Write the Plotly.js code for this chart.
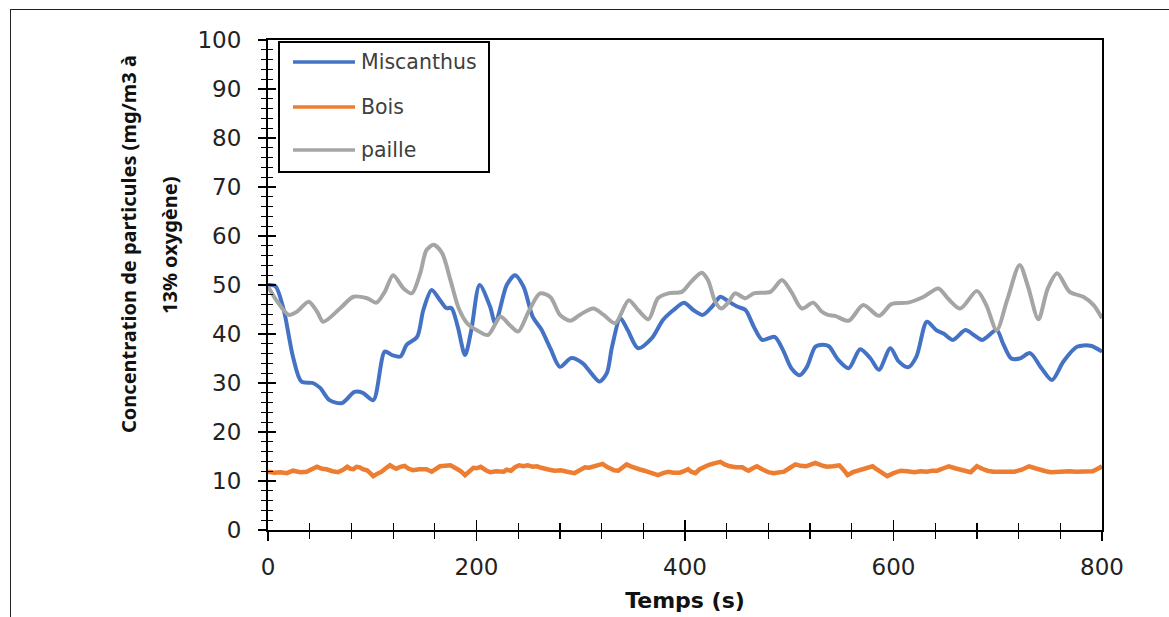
<!DOCTYPE html>
<html>
<head>
<meta charset="utf-8">
<script src="https://cdn.plot.ly/plotly-3.0.1.min.js"></script>
<style>
html,body{margin:0;padding:0;background:#fff;}
#frame{position:absolute;left:10px;top:9px;width:1200px;height:700px;border:1.5px solid #222;box-sizing:border-box;}
#chart{position:absolute;left:0;top:0;width:1169px;height:617px;}
</style>
</head>
<body>
<div id="frame"></div>
<div id="chart"></div>
<script>
// ---- Data ----
const miscanthusX = [0, 7, 15, 24, 32, 43, 50, 59, 71, 83, 91, 101, 112, 119, 127, 133, 143, 149, 157, 165, 171, 176, 182, 189, 195, 203, 213, 218, 229, 237, 245, 254, 262, 271, 280, 291, 302, 310, 318, 325, 330, 338, 345, 355, 368, 379, 389, 399, 408, 417, 426, 434, 440, 450, 458, 466, 474, 486, 494, 502, 510, 517, 525, 532, 538, 547, 557, 568, 578, 586, 597, 605, 614, 622, 632, 641, 648, 657, 669, 677, 685, 699, 705, 713, 721, 731, 742, 752, 763, 776, 789, 800];
const miscanthusY = [50, 49.8, 45, 35.3, 30.3, 30, 29, 26.5, 25.9, 28.2, 28, 26.5, 36.4, 35.7, 35.4, 37.8, 39.4, 44.9, 49, 46.9, 45.3, 45.3, 41.5, 35.7, 40.8, 50, 45.6, 42.2, 50, 52, 49.7, 43.5, 41, 37, 33.3, 35.1, 34, 32, 30.3, 32, 37.4, 43.2, 40.8, 37.1, 39.1, 42.9, 44.9, 46.4, 44.9, 43.9, 45.6, 47.6, 46.9, 45.6, 44.9, 41.5, 38.8, 39.4, 36.7, 33, 31.6, 33.3, 37.4, 37.8, 37.5, 34.7, 33, 36.9, 35, 32.7, 37.1, 34.4, 33.2, 35.4, 42.5, 40.8, 40.1, 38.8, 40.8, 39.8, 38.8, 40.8, 38.1, 35, 35, 36.1, 33, 30.6, 34.4, 37.4, 37.6, 36.4];

const paille_X = [0, 8, 20, 28, 39, 47, 53, 69, 82, 95, 104, 112, 120, 130, 138, 146, 152, 159, 167, 175, 183, 191, 200, 211, 223, 232, 240, 250, 261, 271, 280, 290, 299, 312, 322, 333, 346, 355, 365, 374, 384, 397, 406, 416, 422, 429, 435, 442, 448, 458, 466, 482, 493, 502, 512, 523, 531, 537, 544, 557, 571, 586, 598, 614, 629, 643, 652, 664, 680, 689, 699, 709, 721, 729, 739, 748, 757, 769, 782, 792, 800];
const paille_Y = [49.7, 46.9, 43.9, 44.6, 46.6, 44.6, 42.5, 45.2, 47.6, 47.3, 46.4, 48.6, 52, 49.3, 48.3, 52.4, 57.1, 58.2, 56.5, 51, 45.2, 42.2, 40.8, 39.8, 43.5, 41.8, 40.5, 44.6, 48.3, 47.5, 43.9, 42.7, 43.9, 45.2, 43.9, 42.2, 46.9, 44.9, 43, 47.3, 48.3, 48.6, 50.7, 52.5, 51, 46.6, 45.2, 46.6, 48.3, 47.3, 48.3, 48.6, 51, 48.6, 45.2, 46.4, 44.6, 43.9, 43.7, 42.7, 45.9, 43.7, 46.1, 46.4, 47.6, 49.3, 47.3, 45.2, 48.8, 45.9, 40.8, 46.9, 54.1, 49.7, 43, 49.3, 52.4, 48.6, 47.6, 45.9, 43.2];

const boisX = [0, 6, 12, 18, 24, 31, 37, 42, 47, 52, 56, 62, 67, 72, 76, 79, 82, 85, 88, 91, 95, 98, 101, 105, 109, 113, 117, 120, 123, 127, 131, 135, 139, 145, 152, 157, 161, 165, 170, 175, 181, 185, 189, 193, 197, 200, 204, 209, 213, 219, 226, 229, 233, 237, 241, 245, 249, 254, 258, 262, 265, 270, 275, 281, 287, 291, 294, 299, 304, 308, 313, 317, 321, 325, 329, 332, 336, 340, 344, 348, 352, 356, 361, 367, 374, 379, 384, 389, 395, 399, 403, 406, 410, 414, 418, 423, 428, 434, 438, 443, 449, 455, 458, 461, 465, 469, 474, 480, 485, 490, 495, 500, 506, 511, 516, 520, 525, 531, 536, 542, 548, 552, 556, 561, 565, 572, 580, 583, 586, 590, 594, 600, 607, 613, 620, 626, 632, 637, 642, 648, 653, 659, 664, 669, 674, 677, 680, 685, 690, 696, 703, 709, 716, 723, 730, 736, 741, 746, 751, 757, 764, 769, 775, 780, 786, 791, 796, 800];
const boisY = [11.9, 11.7, 11.8, 11.6, 12.1, 11.8, 11.9, 12.3, 12.9, 12.5, 12.4, 12.0, 11.8, 12.3, 12.9, 12.5, 12.4, 12.9, 12.8, 12.4, 12.2, 11.6, 11.0, 11.5, 11.9, 12.6, 13.2, 12.8, 12.5, 12.9, 13.1, 12.5, 12.2, 12.4, 12.4, 11.9, 12.5, 13.0, 13.1, 13.2, 12.5, 12.0, 11.2, 12.0, 12.7, 12.6, 12.9, 12.2, 11.8, 12.0, 11.9, 12.3, 12.1, 12.8, 13.2, 13.0, 13.2, 12.9, 13.0, 12.7, 12.5, 12.3, 12.1, 12.2, 11.9, 11.8, 11.6, 12.2, 12.8, 12.7, 13.0, 13.2, 13.5, 12.9, 12.4, 12.2, 12.1, 12.7, 13.4, 13.0, 12.8, 12.4, 12.1, 11.7, 11.2, 11.6, 11.9, 11.7, 11.7, 12.0, 12.4, 11.9, 11.6, 12.4, 12.9, 13.3, 13.6, 13.9, 13.4, 13.0, 12.8, 12.8, 12.4, 12.1, 12.6, 13.0, 12.4, 11.8, 11.6, 11.7, 11.9, 12.6, 13.4, 13.1, 13.0, 13.3, 13.7, 13.2, 12.9, 13.0, 13.2, 12.3, 11.2, 11.8, 12.1, 12.6, 13.0, 12.5, 12.1, 11.4, 11.0, 11.6, 12.1, 12.0, 11.8, 12.0, 11.9, 12.1, 12.1, 12.6, 13.0, 12.6, 12.4, 12.1, 11.8, 12.4, 13.0, 12.5, 12.1, 11.9, 11.9, 12.1, 11.9, 12.3, 13.0, 12.6, 12.2, 12.0, 11.8, 11.9, 11.9, 12.0, 11.9, 12.0, 11.9, 12.0, 12.5, 13.0];

const seriesNames = ['Miscanthus', 'Bois', 'paille'];
const seriesColors = ['#4472C4', '#ED7D31', '#A5A5A5'];
const xTickVals = [0, 200, 400, 600, 800];
const yTickVals = [0, 10, 20, 30, 40, 50, 60, 70, 80, 90, 100];
const xTitle = 'Temps (s)';
const yTitleLines = ['Concentration de particules (mg/m3 à', '13% oxygène)'];

// ---- Layout geometry ----
const W = 1169, H = 617;
const L = 268, R = 67, T = 40, B = 87;
const PW = W - L - R, PH = H - T - B;
const px = v => (v - L) / PW;        // pixel x -> paper
const py = v => (H - B - v) / PH;    // pixel y -> paper

const tickFont = {family: 'DejaVu Sans', size: 23, color: '#222'};

const traces = [
  {x: miscanthusX, y: miscanthusY, name: seriesNames[0], mode: 'lines',
   line: {color: seriesColors[0], width: 4, shape: 'spline', smoothing: 0.8}, showlegend: false},
  {x: boisX, y: boisY, name: seriesNames[1], mode: 'lines',
   line: {color: seriesColors[1], width: 4.5}, showlegend: false},
  {x: paille_X, y: paille_Y, name: seriesNames[2], mode: 'lines',
   line: {color: seriesColors[2], width: 4, shape: 'spline', smoothing: 0.8}, showlegend: false},
  {x: [0], y: [0], xaxis: 'x2', yaxis: 'y2', mode: 'none', showlegend: false, hoverinfo: 'skip'}
];

const shapes = [];
const annotations = [];
// legend box
shapes.push({type: 'rect', xref: 'paper', yref: 'paper', x0: px(279), x1: px(489), y0: py(42), y1: py(172),
  line: {color: '#000', width: 2}, fillcolor: 'rgba(0,0,0,0)', layer: 'above'});
const legRows = [62, 107, 150];
seriesNames.forEach((n, i) => {
  shapes.push({type: 'line', xref: 'paper', yref: 'paper', x0: px(293), x1: px(355), y0: py(legRows[i]), y1: py(legRows[i]),
    line: {color: seriesColors[i], width: 3.5}});
  annotations.push({xref: 'paper', yref: 'paper', x: px(359), y: py(legRows[i]), xanchor: 'left', yanchor: 'middle',
    text: n, showarrow: false, font: {family: 'DejaVu Sans', size: 20.5, color: '#404040'}});
});
// y title (two lines)
annotations.push({xref: 'paper', yref: 'paper', x: px(128), y: py(244), xanchor: 'center', yanchor: 'middle',
  text: '<b>' + yTitleLines[0] + '</b>', textangle: -90, showarrow: false,
  font: {family: 'Noto Sans', size: 20, color: '#111'}});
annotations.push({xref: 'paper', yref: 'paper', x: px(169), y: py(245), xanchor: 'center', yanchor: 'middle',
  text: '<b>' + yTitleLines[1] + '</b>', textangle: -90, showarrow: false,
  font: {family: 'Noto Sans', size: 20, color: '#111'}});

const layout = {
  width: W, height: H,
  margin: {l: L, r: R, t: T, b: B, pad: 0},
  paper_bgcolor: 'rgba(0,0,0,0)', plot_bgcolor: 'rgba(0,0,0,0)',
  showlegend: false,
  xaxis: {range: [0, 800], tickvals: xTickVals, ticks: 'outside', ticklen: 9, tickwidth: 1.5, tickcolor: '#000',
    minor: {dtick: 40, tick0: 0, ticks: 'outside', ticklen: 7, tickwidth: 1.2, tickcolor: '#000'},
    showline: true, linecolor: '#000', linewidth: 2, mirror: true, showgrid: false, zeroline: false,
    tickfont: tickFont, ticklabelstandoff: 6,
    title: {text: '<b>' + xTitle + '</b>', font: {family: 'DejaVu Sans', size: 22, color: '#111'}, standoff: 14}},
  yaxis: {range: [0, 100], tickvals: yTickVals, ticks: 'outside', ticklen: 8, tickwidth: 1.5, tickcolor: '#000',
    minor: {dtick: 2, tick0: 0, ticks: 'outside', ticklen: 5, tickwidth: 1.2, tickcolor: '#000'},
    showline: true, linecolor: '#000', linewidth: 2, mirror: true, showgrid: false, zeroline: false,
    tickfont: tickFont, ticklabelstandoff: 12},
  xaxis2: {range: [0, 800], overlaying: 'x', anchor: 'y2', tickvals: xTickVals, ticks: 'inside', ticklen: 10, tickwidth: 1.5, tickcolor: '#000',
    minor: {dtick: 40, tick0: 0, ticks: 'inside', ticklen: 7, tickwidth: 1.2, tickcolor: '#000'},
    showticklabels: false, showline: false, showgrid: false, zeroline: false, side: 'bottom'},
  yaxis2: {range: [0, 100], overlaying: 'y', anchor: 'x2', tickvals: yTickVals, ticks: 'inside', ticklen: 8, tickwidth: 1.5, tickcolor: '#000',
    minor: {dtick: 2, tick0: 0, ticks: 'inside', ticklen: 5, tickwidth: 1.2, tickcolor: '#000'},
    showticklabels: false, showline: false, showgrid: false, zeroline: false, side: 'left'},
  shapes: shapes,
  annotations: annotations
};

Plotly.newPlot('chart', traces, layout, {displayModeBar: false, staticPlot: true});
</script>
</body>
</html>
